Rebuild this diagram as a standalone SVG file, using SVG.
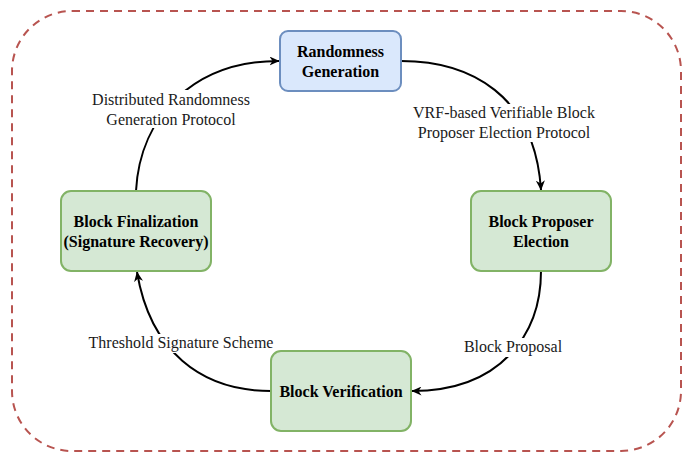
<svg xmlns="http://www.w3.org/2000/svg" width="692" height="462" viewBox="0 0 692 462">
<defs>
<style>
.node rect{stroke-width:2}
.blue rect{fill:#dae8fc;stroke:#6c8ebf}
.green rect{fill:#d5e8d4;stroke:#82b366}
.nt{font-family:"Liberation Serif","Times New Roman",Times,serif;font-size:16px;font-weight:bold;text-anchor:middle;fill:#000}
.lt{font-family:"Liberation Serif","Times New Roman",Times,serif;font-size:16px;text-anchor:middle;fill:#1a1a1a}
.edge{fill:none;stroke:#000;stroke-width:2}
.lbg{fill:#fff}
</style>
<marker id="arr" viewBox="0 0 10 9" refX="9.5" refY="4.5" markerWidth="10" markerHeight="9" markerUnits="userSpaceOnUse" orient="auto">
<path d="M0,0 L10,4.5 L0,9 L3,4.5 Z" fill="#000"/>
</marker>
</defs>
<rect x="12" y="11" width="669" height="440" rx="60" fill="none" stroke="#b85450" stroke-width="2" stroke-dasharray="8 6"/>
<g id="connectors">
<path class="edge" d="M401,61 C470,61 535,95 541,190" marker-end="url(#arr)"/>
<path class="edge" d="M541,271 C541,335 500,391 412,391" marker-end="url(#arr)"/>
<path class="edge" d="M271,391 C200,391 150,350 137,272" marker-end="url(#arr)"/>
<path class="edge" d="M136,191 C140,115 195,61 279,61" marker-end="url(#arr)"/>
<rect class="lbg" x="410" y="104" width="190" height="38"/>
<text class="lt" x="504" y="118">VRF-based Verifiable Block</text>
<text class="lt" x="504" y="138">Proposer Election Protocol</text>
<rect class="lbg" x="462" y="338" width="102" height="19"/>
<text class="lt" x="513" y="352">Block Proposal</text>
<rect class="lbg" x="86" y="334" width="190" height="19"/>
<text class="lt" x="181" y="348">Threshold Signature Scheme</text>
<rect class="lbg" x="90" y="90" width="162" height="38"/>
<text class="lt" x="171" y="105">Distributed Randomness</text>
<text class="lt" x="171" y="125">Generation Protocol</text>
</g>
<g id="randomness-generation" class="node blue">
<rect x="280" y="31" width="121" height="60" rx="8"/>
<text class="nt" x="340.5" y="57">Randomness</text>
<text class="nt" x="340.5" y="77">Generation</text>
</g>
<g id="block-proposer-election" class="node green">
<rect x="471" y="191" width="140" height="80" rx="10"/>
<text class="nt" x="541" y="227">Block Proposer</text>
<text class="nt" x="541" y="247">Election</text>
</g>
<g id="block-verification" class="node green">
<rect x="271" y="351" width="140" height="80" rx="10"/>
<text class="nt" x="341" y="397">Block Verification</text>
</g>
<g id="block-finalization" class="node green">
<rect x="61" y="191" width="150" height="80" rx="10"/>
<text class="nt" x="136" y="227">Block Finalization</text>
<text class="nt" x="136" y="247">(Signature Recovery)</text>
</g>
</svg>
